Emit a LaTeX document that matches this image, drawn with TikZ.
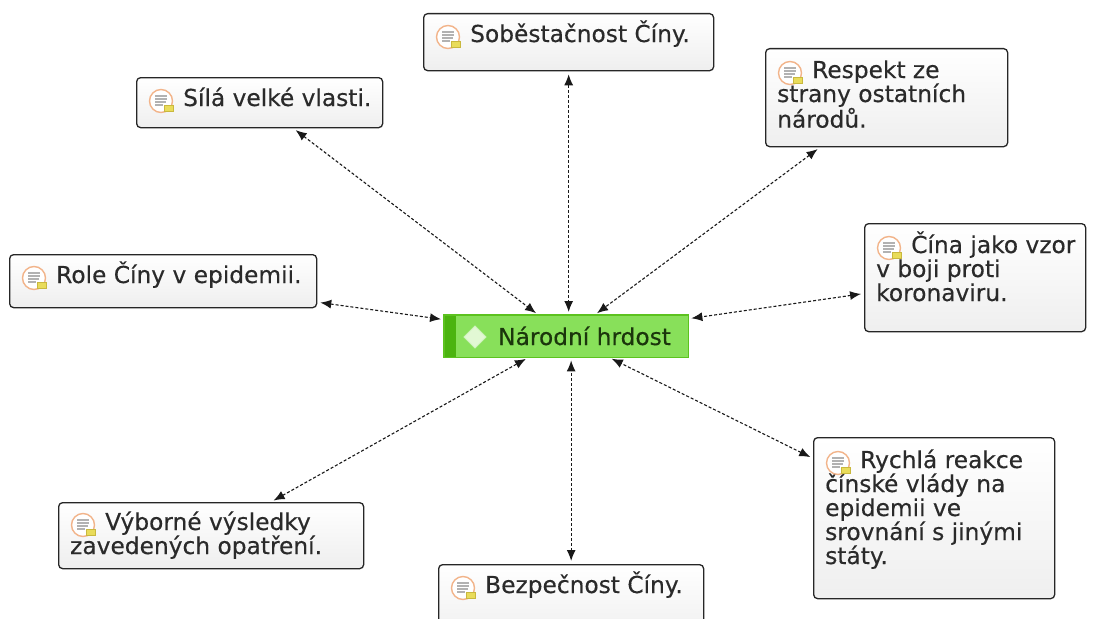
\documentclass[tikz,border=0pt]{standalone}
\usepackage{fontspec}
\setmainfont[FakeBold=0.35]{DejaVu Sans}
\usetikzlibrary{arrows.meta,calc}
\definecolor{txtc}{HTML}{2A2A2A}
\definecolor{cgreen}{HTML}{88E05A}
\definecolor{cborder}{HTML}{5CC21F}
\definecolor{cstrip}{HTML}{4BB40F}
\definecolor{ctext}{HTML}{1B360C}
\definecolor{dfill}{HTML}{E2F8D4}
\definecolor{ringc}{HTML}{F2B48A}
\definecolor{notec}{HTML}{E9DC5A}
\definecolor{noteb}{HTML}{C9B83E}
\begin{document}
\begin{tikzpicture}[x=1pt,y=-1pt,
  box/.style={draw=black!85, line width=1.3pt, rounded corners=4pt,
    top color=white, bottom color=gray!13, inner sep=0pt, anchor=north west},
  txt/.style={font=\fontsize{23.3}{24}\selectfont, text=txtc, inner sep=0pt, anchor=base west},
  ctxt/.style={font=\fontsize{23.3}{24}\selectfont, text=ctext, inner sep=0pt, anchor=base west},
  conn/.style={{Latex[length=11pt,width=9pt]}-{Latex[length=11pt,width=9pt]},
    dash pattern=on 3pt off 2pt, line width=1.1pt, draw=black!90,
    shorten <=3pt, shorten >=3pt},
  noteicon/.pic={
    \draw[ringc, line width=1.4pt, fill=white] (0,0) circle (11.5);
    \draw[gray!60, line width=1.2pt] (-6,-5) -- (6,-5) (-6,-2) -- (6,-2) (-6,1) -- (5,1) (-6,4) -- (2,4);
    \draw[noteb, line width=0.5pt, fill=notec] (3,4) rectangle (12,10);
  }]
\useasboundingbox (0,0) rectangle (1094,618);
\clip (0,0) rectangle (1094,618);

% boxes
\node[box, minimum width=290pt, minimum height=57pt] (sob) at (423,13) {};
\node[box, minimum width=246pt, minimum height=50pt] (sila) at (136,77) {};
\node[box, minimum width=242pt, minimum height=98pt] (resp) at (765,48) {};
\node[box, minimum width=307pt, minimum height=53pt] (role) at (9,254) {};
\node[box, minimum width=221pt, minimum height=108pt] (cina) at (864,223) {};
\node[box, minimum width=305pt, minimum height=66pt] (vyb) at (58,502) {};
\node[box, minimum width=265pt, minimum height=76pt] (bez) at (438,564) {};
\node[box, minimum width=241pt, minimum height=161pt] (rych) at (813,437) {};

% central node
\node[fill=cgreen, minimum width=244pt, minimum height=42pt, inner sep=0pt, anchor=north west] (c) at (444,315) {};
\fill[cstrip] (c.north west) rectangle ($(c.south west)+(12,0)$);
\draw[cborder, line width=1.2pt] (c.north west) rectangle (c.south east);
\draw[white!60!cgreen, line width=1pt, fill=dfill] (475,326) -- (486,337) -- (475,348) -- (464,337) -- cycle;
\node[ctxt] (cT) at (498,345) {Národní hrdost};

% texts
\node[txt] (sobT) at ($(sob.north west)+(12,29)$) {\hspace*{35pt}Soběstačnost Číny.};
\node[txt] (silaT) at ($(sila.north west)+(12,29)$) {\hspace*{35pt}Sílá velké vlasti.};
\node[txt] (respT) at ($(resp.north west)+(12,30)$) {\parbox[t]{228pt}{\hspace*{35pt}Respekt ze\\strany ostatních\\národů.}};
\node[txt] (roleT) at ($(role.north west)+(12,29)$) {\hspace*{35pt}Role Číny v epidemii.};
\node[txt] (cinaT) at ($(cina.north west)+(12,30)$) {\parbox[t]{208pt}{\hspace*{35pt}Čína jako vzor\\v boji proti\\koronaviru.}};
\node[txt] (vybT) at ($(vyb.north west)+(12,28)$) {\parbox[t]{290pt}{\hspace*{35pt}Výborné výsledky\\zavedených opatření.}};
\node[txt] (bezT) at ($(bez.north west)+(12,29)$) {\hspace*{35pt}Bezpečnost Číny.};
\node[txt] (rychT) at ($(rych.north west)+(12,31)$) {\parbox[t]{228pt}{\hspace*{35pt}Rychlá reakce\\čínské vlády na\\epidemii ve\\srovnání s jinými\\státy.}};

% icons
\foreach \n/\dy in {sob/24, sila/24, resp/25, role/24, cina/25, vyb/23, bez/24, rych/26}
  \pic at ($(\n.north west)+(25,\dy)$) {noteicon};

% connectors
\draw[conn] (sila) -- (c);
\draw[conn] (sob.south) -- (sob.south |- c.north);
\draw[conn] (resp) -- (c);
\draw[conn] (role) -- (c);
\draw[conn] (cina) -- (c);
\draw[conn] (rych) -- (c);
\draw[conn] (bez.north) -- (bez.north |- c.south);
\draw[conn] (vyb) -- (c);
\end{tikzpicture}
\end{document}
